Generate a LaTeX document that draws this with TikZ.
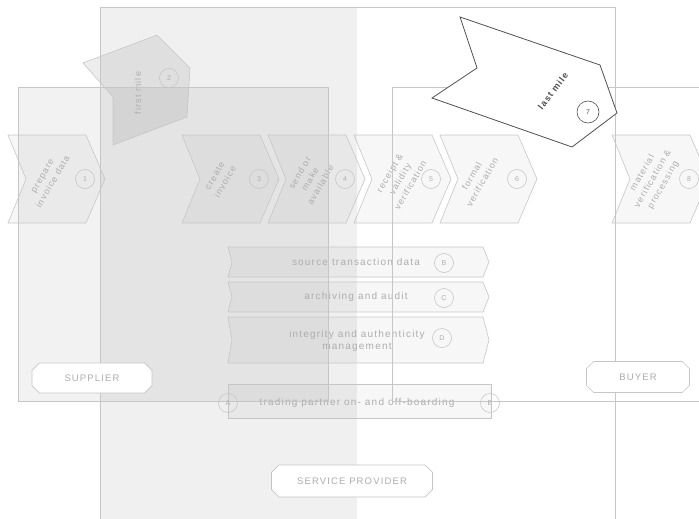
\documentclass[tikz,border=0pt]{standalone}
\usepackage{fontspec}
\setmainfont{Liberation Sans}
\newfontfamily\spaced[LetterSpace=12]{Liberation Sans}
\usetikzlibrary{shapes.misc}
\definecolor{rim}{HTML}{C6C6C6}
\definecolor{ink}{HTML}{ADADAD}
\definecolor{dark}{HTML}{505050}
\tikzset{chev/.style={draw=rim, line width=0.6pt, fill=black, fill opacity=0.03},
  lbl/.style={text=ink, font=\spaced\fontsize{10}{12}\selectfont, align=center, inner sep=0pt},
  steplbl/.style={lbl, rotate=60, font=\spaced\fontsize{9}{12}\selectfont},
  num/.style={circle, draw=rim, line width=0.6pt, minimum size=19pt, inner sep=0pt, text=ink, font=\fontsize{7}{8}\selectfont},
  region/.style={draw=rim, line width=0.8pt},
  tag/.style={chamfered rectangle, chamfered rectangle xsep=4pt, chamfered rectangle ysep=4pt,
    draw=rim, line width=0.6pt, fill=white, text=ink, inner sep=0pt, font=\spaced\fontsize{9.5}{11}\selectfont}}

\begin{document}
\begin{tikzpicture}[x=1pt, y=-1pt]
  \useasboundingbox (0,0) rectangle (699,519);
  \clip (0,0) rectangle (699,519);
  % region fills
  \fill[black, fill opacity=0.06] (100,7) rectangle (357,530);
  \fill[black, fill opacity=0.05] (18,87) rectangle (328,401);

  % process chevrons
  \foreach \x/\t/\n/\d in {8/{prepare\\invoice data}/1/40, 182/{create\\invoice}/3/38,
      268/{send or\\make\\available}/4/42, 354/{receipt \&\\validity\\verification}/5/46,
      440/{formal\\verification}/6/37, 612/{material\\verification \&\\processing}/8/41} {
    \draw[chev] (\x,135) -- ++(78,0) -- ++(19,44) -- ++(-19,44) -- ++(-78,0) -- ++(18,-44) -- cycle;
    \node[steplbl] (t\n) at (\x+\d,179) {\t};
    \node[num] (n\n) at (\x+77,179) {\n};
  }

  % supporting services
  \draw[chev] (228,247) -- (483,247) -- (489,262) -- (483,277) -- (228,277) -- (232,262) -- cycle;
  \node[lbl] (src) at (356,262) {source transaction data};
  \node[num] (nB) at (444,263) {B};
  \draw[chev] (228,282) -- (483,282) -- (489,297) -- (483,312) -- (228,312) -- (232,297) -- cycle;
  \node[lbl] (arc) at (356,297) {archiving and audit};
  \node[num] (nC) at (444,298) {C};
  \draw[chev] (228,317) -- (483,317) -- (489,340) -- (483,363) -- (228,363) -- (232,340) -- cycle;
  \node[lbl] (integ) at (357,341) {integrity and authenticity\\management};
  \node[num] (nD) at (442,338) {D};
  \draw[chev] (228,384) rectangle (491,418);
  \node[lbl] (board) at (357,403) {trading partner on- and off-boarding};

  % first mile
  \draw[chev, fill opacity=0.07] (83,63) -- (157,35) -- (190,68) -- (187,117) -- (113,145) -- (113,97) -- cycle;
  \node[steplbl, rotate=30] (first) at (138,93) {first mile};
  \node[num] (n2) at (169,78) {2};

  % regions
  \draw[region] (100,7) rectangle (615,530);
  \draw[region] (18,87) rectangle (328,401);
  \draw[region] (392,87) rectangle (710,401);
  \node[num] (nA) at (228,403) {A};
  \node[num] (nE) at (490,403) {E};

  \node[tag, minimum width=120pt, minimum height=30pt] (supplier) at (92,378) {SUPPLIER};
  \node[tag, minimum width=103pt, minimum height=31pt] (buyer) at (638,377) {BUYER};
  \node[tag, minimum width=161pt, minimum height=32pt] (provider) at (352,481) {SERVICE PROVIDER};

  % last mile
  \draw[dark, line width=0.8pt, fill=white] (460,17) -- (600,65) -- (617,113) -- (572,147) -- (432,98) -- (477,68) -- cycle;
  \node[steplbl, text=dark, rotate=-7, font=\spaced\bfseries\fontsize{9}{11}\selectfont] (last) at (553,91) {last mile};
  \node[num, draw=dark, text=dark, minimum size=22pt] (n7) at (588,112) {7};
\end{tikzpicture}
\end{document}
